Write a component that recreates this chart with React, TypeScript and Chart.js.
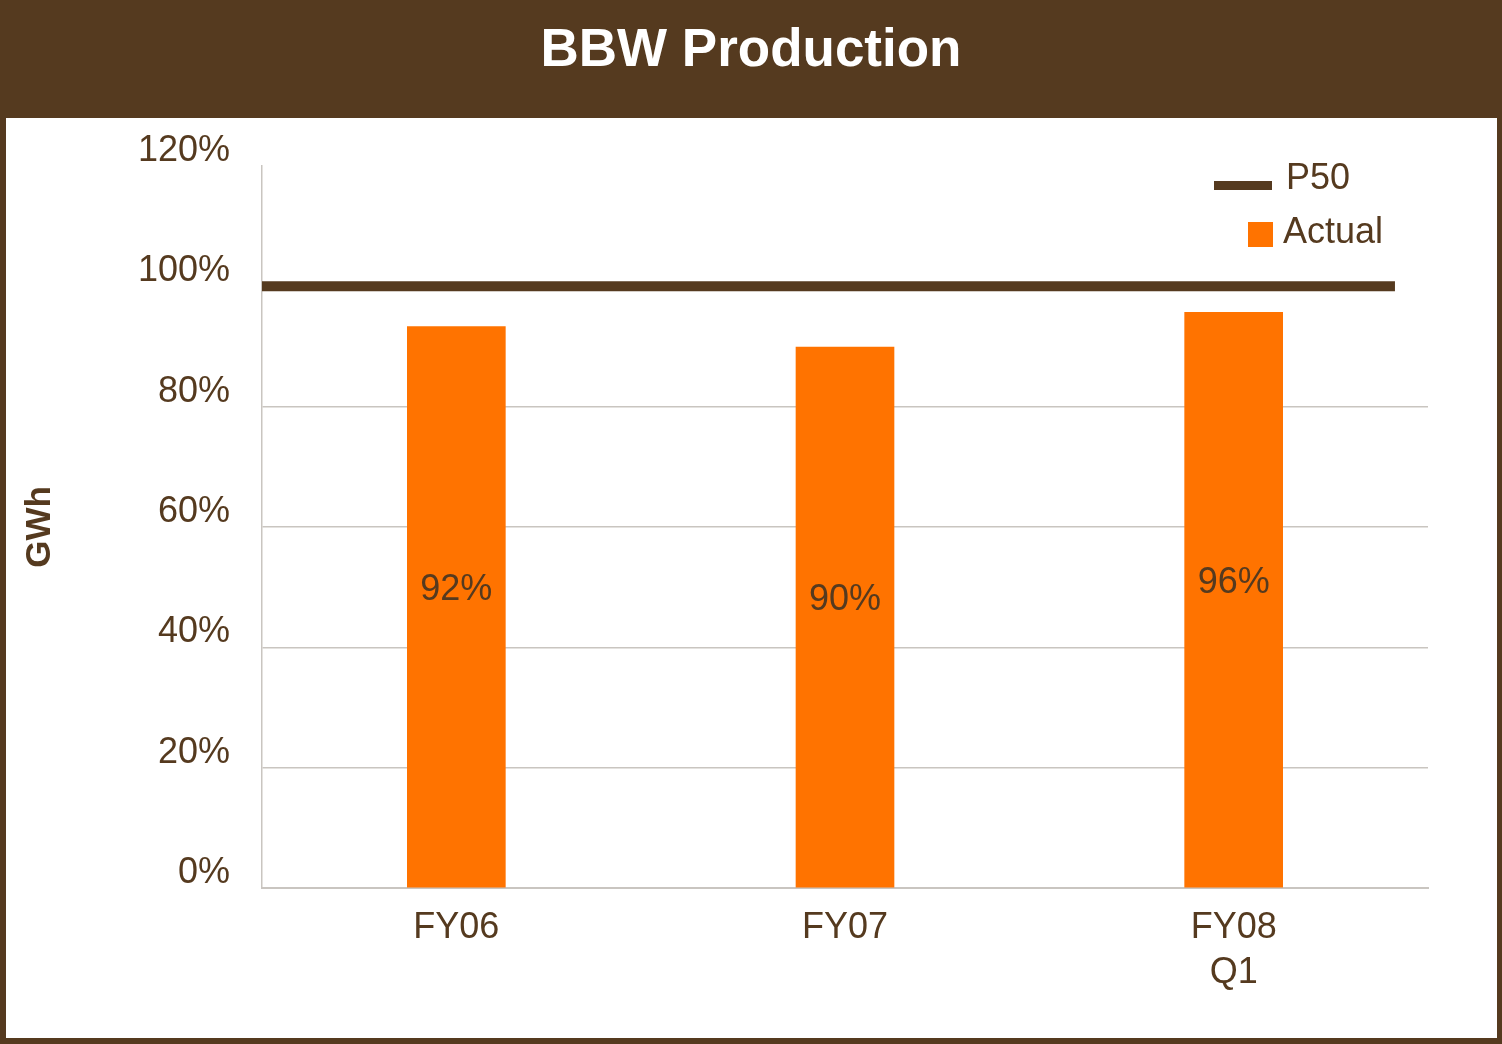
import React, { useEffect, useRef } from "react";
import { Chart, registerables } from "chart.js";

Chart.register(...registerables);

// ---- data ----
const categories: (string | string[])[] = ["FY06", "FY07", ["FY08", "Q1"]];
const actualValues: number[] = [93.3, 89.9, 95.7];
const actualLabels: string[] = ["92%", "90%", "96%"];
const p50Value = 100;
const p50Span: number[] = [-0.5, 2.415]; // start / end along the category positions
const yTicks: number[] = [0, 20, 40, 60, 80, 100, 120];

const BROWN = "#553A1F";
const ORANGE = "#FF7300";
const GRID = "#C9C5C0";
const FONT = "'Liberation Sans', Arial, sans-serif";

const barLabelPlugin = {
  id: "barLabels",
  afterDatasetsDraw(chart: any) {
    const ctx = chart.ctx;
    const meta = chart.getDatasetMeta(0);
    ctx.save();
    ctx.font = `36px ${FONT}`;
    ctx.fillStyle = BROWN;
    ctx.textAlign = "center";
    ctx.textBaseline = "middle";
    meta.data.forEach((bar: any, i: number) => {
      const { x, y, base } = bar.getProps(["x", "y", "base"], true);
      ctx.fillText(actualLabels[i], x, (y + base) / 2 - 17);
    });
    ctx.restore();
  },
};

export default function App() {
  const canvasRef = useRef<HTMLCanvasElement | null>(null);

  useEffect(() => {
    if (!canvasRef.current) return;
    const chart = new Chart(canvasRef.current, {
      type: "bar",
      data: {
        labels: categories as any,
        datasets: [
          {
            type: "bar",
            label: "Actual",
            data: actualValues,
            backgroundColor: ORANGE,
            borderWidth: 0,
            barThickness: 98,
            grouped: false,
            xAxisID: "x",
            order: 2,
          } as any,
          {
            type: "line",
            label: "P50",
            data: p50Span.map((x) => ({ x, y: p50Value })),
            borderColor: BROWN,
            borderWidth: 10,
            borderCapStyle: "butt",
            pointRadius: 0,
            fill: false,
            xAxisID: "x2",
            order: 1,
          } as any,
        ],
      },
      options: {
        responsive: false,
        animation: false,
        layout: { padding: { left: 0, top: 48, right: 69, bottom: 0 } },
        plugins: {
          legend: { display: false },
          tooltip: { enabled: false },
          title: { display: false },
        },
        scales: {
          x: {
            type: "category",
            offset: true,
            grid: { display: false, drawTicks: false },
            border: { display: true, color: GRID, width: 2 },
            ticks: {
              color: BROWN,
              font: { family: FONT, size: 36, lineHeight: 1.25 },
              padding: 18,
              maxRotation: 0,
              autoSkip: false,
            },
            afterFit(scale: any) {
              scale.height = 150;
              scale.paddingLeft = 0;
              scale.paddingRight = 0;
            },
          },
          x2: {
            type: "linear",
            axis: "x",
            position: "bottom",
            display: false,
            offset: false,
            grid: { offset: false },
            min: -0.5,
            max: 2.5,
          },
          y: {
            min: 0,
            max: 120,
            grid: {
              drawTicks: false,
              color: (ctx: any) =>
                ctx.tick && (ctx.tick.value === 120 || ctx.tick.value === 100)
                  ? "rgba(0,0,0,0)"
                  : GRID,
              lineWidth: 1.5,
            },
            border: { display: true, color: GRID, width: 1.5 },
            afterBuildTicks(scale: any) {
              scale.ticks = yTicks.map((v) => ({ value: v }));
            },
            ticks: {
              color: BROWN,
              font: { family: FONT, size: 36 },
              padding: 32,
              labelOffset: -15,
              callback: (v: any) => `${v}%`,
            },
            title: {
              display: true,
              text: "GWh",
              color: BROWN,
              font: { family: FONT, size: 35, weight: "bold", lineHeight: 1.2 },
              padding: { top: 13, bottom: 0 },
            },
            afterFit(scale: any) {
              scale.width = 256;
              scale.paddingTop = 0;
              scale.paddingBottom = 0;
            },
          },
        },
      } as any,
      plugins: [barLabelPlugin],
    });
    return () => chart.destroy();
  }, []);

  return (
    <div
      style={{
        position: "absolute",
        left: 0,
        top: 0,
        width: 1502,
        height: 1044,
        fontFamily: FONT,
        background: "#ffffff",
      }}
    >
      <div
        style={{
          position: "absolute",
          left: 0,
          top: 0,
          width: 1502,
          height: 118,
          background: BROWN,
          color: "#ffffff",
          fontWeight: "bold",
          fontSize: 53,
          lineHeight: "normal",
          textAlign: "center",
          boxSizing: "border-box",
          paddingTop: 17,
        }}
      >
        BBW Production
      </div>
      <div
        style={{
          position: "absolute",
          left: 0,
          top: 118,
          width: 1502,
          height: 926,
          boxSizing: "border-box",
          borderLeft: `6px solid ${BROWN}`,
          borderRight: `5px solid ${BROWN}`,
          borderBottom: `6px solid ${BROWN}`,
        }}
      >
        <canvas
          ref={canvasRef}
          width={1491}
          height={920}
          style={{ display: "block", width: 1491, height: 920 }}
        />
      </div>
      {/* legend */}
      <div
        style={{
          position: "absolute",
          left: 1214,
          top: 181,
          width: 58,
          height: 9,
          background: BROWN,
        }}
      />
      <div
        style={{
          position: "absolute",
          left: 1286,
          top: 159,
          fontSize: 36,
          lineHeight: 1,
          color: BROWN,
          whiteSpace: "nowrap",
        }}
      >
        P50
      </div>
      <div
        style={{
          position: "absolute",
          left: 1248,
          top: 222,
          width: 25,
          height: 25,
          background: ORANGE,
        }}
      />
      <div
        style={{
          position: "absolute",
          left: 1283,
          top: 213,
          fontSize: 36,
          lineHeight: 1,
          color: BROWN,
          whiteSpace: "nowrap",
        }}
      >
        Actual
      </div>
    </div>
  );
}
